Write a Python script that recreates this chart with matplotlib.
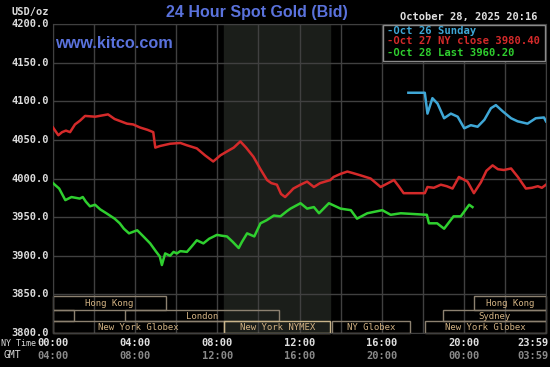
import matplotlib.pyplot as plt
import matplotlib.patches as patches
import matplotlib.transforms as transforms

# hours since 00:00 NY time, price in USD/oz
oct26_hours = [17.3, 18.1, 18.23, 18.47, 18.72, 19.04, 19.37, 19.7, 20.02, 20.34,
               20.67, 21.0, 21.32, 21.56, 21.89, 22.3, 22.62, 23.1, 23.5, 23.9, 24.0]
oct26_price = [4111, 4111, 4084, 4104, 4097, 4078, 4084, 4080, 4065, 4069,
               4067, 4076, 4091, 4095, 4087, 4078, 4074, 4071, 4078, 4079, 4074]

oct27_hours = [0.0, 0.26, 0.44, 0.63, 0.83, 1.07, 1.32, 1.56, 2.05, 2.68, 3.0, 3.6,
               3.9, 4.24, 4.6, 4.88, 4.98, 5.2, 5.7, 6.2, 6.52, 7.0, 7.4, 7.8, 8.15,
               8.47, 8.8, 9.12, 9.4, 9.76, 10.1, 10.42, 10.63, 10.9, 11.1, 11.3,
               11.56, 11.7, 12.05, 12.37, 12.7, 13.0, 13.5, 13.66, 14.0, 14.33, 14.6,
               14.98, 15.46, 15.95, 16.24, 16.6, 16.83, 17.07, 18.1, 18.23, 18.54,
               18.88, 19.17, 19.45, 19.76, 20.18, 20.49, 20.83, 21.1, 21.4, 21.66,
               21.95, 22.3, 22.63, 23.02, 23.32, 23.6, 23.8, 24.0]
oct27_price = [4066, 4056, 4060, 4062, 4060, 4070, 4075, 4081, 4080, 4083, 4077, 4071,
               4070, 4066, 4063, 4060, 4040, 4042, 4045, 4046, 4043, 4039, 4030, 4022,
               4030, 4035, 4040, 4048, 4040, 4028, 4012, 3998, 3994, 3992, 3980, 3976,
               3983, 3987, 3992, 3996, 3989, 3994, 3998, 4002, 4006, 4009, 4007,
               4004, 4000, 3989, 3993, 3998, 3990, 3981, 3981, 3989, 3988,
               3992, 3990, 3987, 4002, 3996, 3981, 3995, 4010, 4017, 4012,
               4011, 4013, 4002, 3987, 3988, 3990, 3988, 3992]

oct28_hours = [0.0, 0.3, 0.6, 0.9, 1.1, 1.3, 1.45, 1.6, 1.8, 2.05, 2.3, 2.6, 3.0,
               3.25, 3.45, 3.7, 4.1, 4.4, 4.73, 5.0, 5.2, 5.3, 5.46, 5.7, 5.87, 6.03,
               6.2, 6.52, 6.75, 7.0, 7.32, 7.6, 7.98, 8.2, 8.47, 8.75, 9.04, 9.2,
               9.45, 9.8, 10.1, 10.4, 10.75, 11.07, 11.4, 11.56, 12.05, 12.37, 12.7,
               12.95, 13.43, 14.0, 14.5, 14.8, 15.3, 16.03, 16.44, 16.93, 18.2, 18.3,
               18.7, 19.04, 19.5, 19.85, 20.26, 20.42]
oct28_price = [3994, 3987, 3972, 3976, 3975, 3974, 3976, 3970, 3964, 3966, 3960, 3955,
               3948, 3942, 3935, 3929, 3933, 3925, 3916, 3906, 3899, 3888, 3903, 3900,
               3905, 3903, 3906, 3905, 3912, 3920, 3916, 3922, 3927, 3926, 3925, 3918,
               3910, 3918, 3929, 3925, 3942, 3946, 3952, 3951, 3958, 3961, 3968, 3961,
               3963, 3955, 3968, 3961, 3959, 3948, 3955, 3959, 3953, 3955, 3953, 3942,
               3942, 3935, 3951, 3951, 3966, 3963]

legend_labels = ['-Oct 26 Sunday', '-Oct 27 NY close 3980.40', '-Oct 28 Last 3960.20']
line_colors = ['#3fa7d6', '#d42a2a', '#2fcf2f']

y_ticks = [3800, 3850, 3900, 3950, 4000, 4050, 4100, 4150, 4200]
ny_ticks = [0, 4, 8, 12, 16, 20, 24]
ny_labels = ['00:00', '04:00', '08:00', '12:00', '16:00', '20:00', '23:59']
gmt_labels = ['04:00', '08:00', '12:00', '16:00', '20:00', '00:00', '03:59']

session_names = ['Hong Kong', 'Hong Kong', '', 'London', 'Sydney',
                 'New York Globex', 'New York NYMEX', 'NY Globex', 'New York Globex']
session_start = [0, 20.5, 0, 3.5, 19.0, 0, 8.33, 13.6, 18.1]
session_end = [5.5, 24, 1.0, 11.0, 24, 8.33, 13.5, 17.4, 24]
session_row = [0, 0, 1, 1, 1, 2, 2, 2, 2]
nymex_start, nymex_end = 8.33, 13.5

mono = 'DejaVu Sans Mono'
fig = plt.figure(figsize=(5.5, 3.67), dpi=100, facecolor='black')
ax = fig.add_axes([53/550, 1 - 333/367, 493/550, 309/367])
ax.set_facecolor('black')
ax.set_xlim(0, 24)
ax.set_ylim(3800, 4200)

ax.axvspan(nymex_start, nymex_end, color='#1b1e1a', zorder=0)
ax.set_xticks(range(0, 25, 2))
ax.set_yticks(y_ticks)
ax.grid(True, color='#404040', linewidth=1.0, zorder=1)
ax.tick_params(length=0, labelbottom=False, labelleft=False)
for s in ax.spines.values():
    s.set_color('#404040')

# session boxes
row_bottom = [3830, 3815, 3800]
row_height = [18, 15, 15]
for name, a, b, r in zip(session_names, session_start, session_end, session_row):
    edge = '#c8b48a' if name == 'New York NYMEX' else '#8c8170'
    ax.add_patch(patches.Rectangle((a, row_bottom[r]), b - a, row_height[r],
                                   fill=False, edgecolor=edge, linewidth=1.0,
                                   zorder=2, clip_on=False))
    if name:
        ax.text((a + b) / 2, row_bottom[r] + row_height[r] / 2 - 0.5, name,
                ha='center', va='center', color='#d2b283', fontsize=6.5,
                family=mono, zorder=3)

ax.plot(oct26_hours, oct26_price, color=line_colors[0], linewidth=1.8, zorder=4)
ax.plot(oct27_hours, oct27_price, color=line_colors[1], linewidth=1.8, zorder=4)
ax.plot(oct28_hours, oct28_price, color=line_colors[2], linewidth=1.8, zorder=4)

# y labels
for v in y_ticks:
    ax.text(-0.2, v, f'{v:.1f}', ha='right', va='center', color='#dcdcdc',
            fontsize=7.5, family=mono, fontweight='bold')
fig.text(11/550, 1 - 12/367, 'USD/oz', ha='left', va='center', color='#dcdcdc',
         fontsize=7.5, family=mono, fontweight='bold')

# x labels, NY and GMT rows (last one pinned to the right edge)
trans = transforms.blended_transform_factory(ax.transData, fig.transFigure)
for t, a, b in zip(ny_ticks, ny_labels, gmt_labels):
    if t == ny_ticks[-1]:
        fig.text(549/550, 1 - 343/367, a, ha='right', va='center', color='#e0e0e0',
                 fontsize=7.5, family=mono, fontweight='bold')
        fig.text(549/550, 1 - 356/367, b, ha='right', va='center', color='#8a8a8a',
                 fontsize=7.5, family=mono, fontweight='bold')
        continue
    ax.text(t, 1 - 343/367, a, transform=trans, ha='center', va='center',
            color='#e0e0e0', fontsize=7.5, family=mono, fontweight='bold')
    ax.text(t, 1 - 356/367, b, transform=trans, ha='center', va='center',
            color='#8a8a8a', fontsize=7.5, family=mono, fontweight='bold')
fig.text(1/550, 1 - 343/367, 'NY Time', ha='left', va='center', color='#dcdcdc',
         fontsize=6, family=mono)
fig.text(4/550, 1 - 355/367, 'GMT', ha='left', va='center', color='#dcdcdc',
         fontsize=7, family=mono)

# header
fig.text(257/550, 1 - 13/367, '24 Hour Spot Gold (Bid)', ha='center', va='center',
         color='#5a72dc', fontsize=11.5, family='Liberation Sans', fontweight='bold')
fig.text(55/550, 1 - 44/367, 'www.kitco.com', ha='left', va='center',
         color='#5a72dc', fontsize=11.7, family='Liberation Sans', fontweight='bold')
fig.text(538/550, 1 - 17/367, 'October 28, 2025 20:16', ha='right', va='center',
         color='#e0e0e0', fontsize=7.5, family=mono, fontweight='bold')

# legend box
fig.patches.append(patches.Rectangle((383/550, 1 - 61/367), 162/550, 36/367,
                                     transform=fig.transFigure, facecolor='black',
                                     edgecolor='#8a8a8a', linewidth=1.0, zorder=5))
for i, (lab, c) in enumerate(zip(legend_labels, line_colors)):
    fig.text(387/550, 1 - (30.5 + 11 * i)/367, lab, ha='left', va='center', color=c,
             fontsize=7.6, family=mono, fontweight='bold', zorder=6)

fig.savefig('out.png', dpi=100, facecolor='black')
